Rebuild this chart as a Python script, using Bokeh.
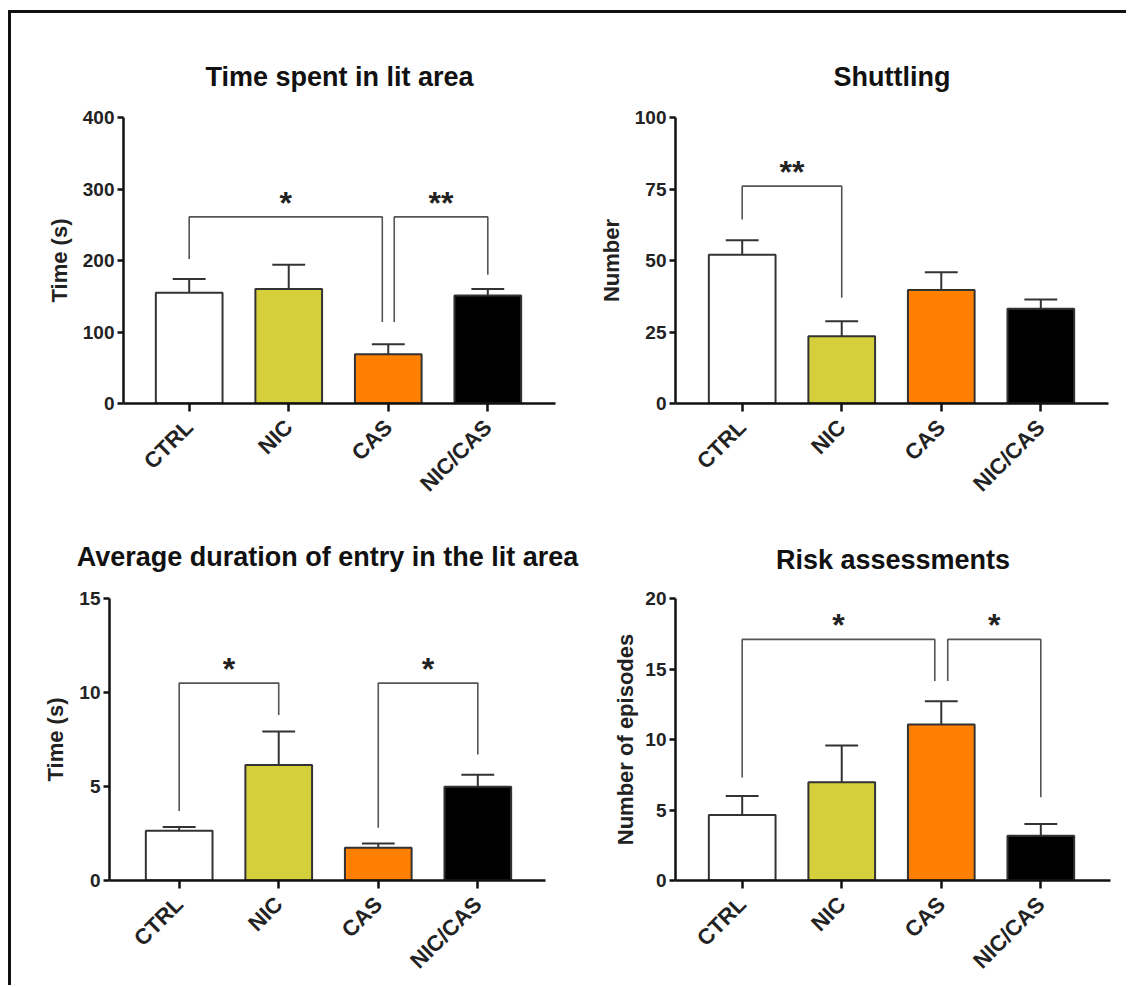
import math
from bokeh.plotting import figure
from bokeh.layouts import row, column
from bokeh.models import FixedTicker, Range1d, ColumnDataSource
from bokeh.core.properties import value
from bokeh.embed import file_html
from bokeh.resources import INLINE

# ---------------- data ----------------
groups = ["CTRL", "NIC", "CAS", "NIC/CAS"]
bar_colors = ["#FFFFFF", "#D6CF3C", "#FF7F00", "#000000"]

titles = ["Time spent in lit area", "Shuttling",
          "Average duration of entry in the lit area", "Risk assessments"]
y_labels = ["Time (s)", "Number", "Time (s)", "Number of episodes"]
y_max = [400, 100, 15, 20]
y_ticks = [[0, 100, 200, 300, 400], [0, 25, 50, 75, 100],
           [0, 5, 10, 15], [0, 5, 10, 15, 20]]

time_lit_mean = [155, 160, 69, 151]
time_lit_sem = [19, 34, 14, 9]

shuttling_mean = [52, 23.5, 39.7, 33.1]
shuttling_sem = [5.1, 5.3, 6.2, 3.3]

avg_entry_mean = [2.64, 6.14, 1.74, 4.99]
avg_entry_sem = [0.2, 1.78, 0.23, 0.63]

risk_mean = [4.64, 6.96, 11.07, 3.18]
risk_sem = [1.35, 2.62, 1.64, 0.83]

# significance brackets: left x, right x, top y, left leg end, right leg end, label
time_lit_sig = [(1, 2.94, 261, 202, 114, "*"), (3.06, 4, 261, 114, 180, "**")]
shuttling_sig = [(1, 2, 76, 64.3, 37, "**")]
avg_entry_sig = [(1, 2, 10.5, 3.7, 8.8, "*"), (3, 4, 10.5, 2.8, 6.7, "*")]
risk_sig = [(1, 2.935, 17.1, 7.3, 14.15, "*"), (3.065, 4, 17.1, 14.15, 5.9, "*")]

means = [time_lit_mean, shuttling_mean, avg_entry_mean, risk_mean]
sems = [time_lit_sem, shuttling_sem, avg_entry_sem, risk_sem]
sigs = [time_lit_sig, shuttling_sig, avg_entry_sig, risk_sig]

# ---------------- layout geometry ----------------
x_ranges = [(0.34, 4.68), (0.33, 4.68), (0.30, 4.68), (0.33, 4.70)]
fig_w = [560, 555, 590, 525]
fig_h = [495, 495, 477, 477]
borders = [  # left, right, top, bottom
    (112, 16, 104, 104),
    (104, 18, 104, 104),
    (98, 56, 90, 100),
    (74, 16, 90, 100),
]
title_standoff = [51, 51, 54, 48]
ylabel_standoff = [8, 8, 8, 4]

FONT = "Liberation Sans"


def make_panel(i):
    bl, br, bt, bb = borders[i]
    p = figure(width=fig_w[i], height=fig_h[i], output_backend="svg",
               toolbar_location=None, tools="",
               x_range=Range1d(*x_ranges[i]), y_range=Range1d(0, y_max[i]),
               min_border_left=bl, min_border_right=br,
               min_border_top=bt, min_border_bottom=bb,
               title=titles[i])
    p.outline_line_color = None
    p.grid.visible = False
    p.background_fill_color = "white"
    p.border_fill_color = "white"

    p.title.align = "center"
    p.title.text_font = FONT
    p.title.text_font_size = "27px"
    p.title.text_font_style = "bold"
    p.title.text_color = "#111111"
    p.title.standoff = title_standoff[i]

    xs = [1, 2, 3, 4]
    m = means[i]
    s = sems[i]
    src = ColumnDataSource(dict(x=xs, top=m, color=bar_colors,
                                up=[a + b for a, b in zip(m, s)],
                                cl=[x - 0.165 for x in xs],
                                cr=[x + 0.165 for x in xs]))
    p.segment(x0="x", y0="top", x1="x", y1="up", source=src,
              line_color="#333333", line_width=2)
    p.segment(x0="cl", y0="up", x1="cr", y1="up", source=src,
              line_color="#333333", line_width=2)
    p.vbar(x="x", top="top", bottom=0, width=0.67, source=src,
           fill_color="color", line_color="#333333", line_width=2)

    # brackets
    bx, by, lx, ly, lt = [], [], [], [], []
    for (x1, x2, yt, yl, yr, lab) in sigs[i]:
        bx.append([x1, x1, x2, x2])
        by.append([yl, yt, yt, yr])
        lx.append((x1 + x2) / 2)
        ly.append(yt)
        lt.append(lab)
    p.multi_line(xs=bx, ys=by, line_color="#555555", line_width=1.6)
    p.text(x=lx, y=ly, text=lt, text_align="center",
           text_baseline="alphabetic", y_offset=-14,
           text_font=value(FONT), text_font_size="32px",
           text_font_style="bold", text_color="#222222")

    # axes
    p.yaxis.ticker = FixedTicker(ticks=y_ticks[i])
    p.xaxis.ticker = FixedTicker(ticks=xs)
    p.xaxis.major_label_overrides = {x: g for x, g in zip(xs, groups)}
    p.xaxis.major_label_orientation = math.pi / 4
    for ax in (p.xaxis[0], p.yaxis[0]):
        ax.axis_line_width = 2.5
        ax.axis_line_color = "#111111"
        ax.major_tick_line_width = 2.5
        ax.major_tick_line_color = "#111111"
        ax.major_tick_in = 0
        ax.minor_tick_line_color = None
        ax.major_label_text_font = FONT
        ax.major_label_text_font_style = "bold"
        ax.major_label_text_color = "#222222"
    p.yaxis.major_label_text_font_size = "19px"
    p.xaxis.major_label_text_font_size = "22px"
    p.yaxis.major_tick_out = 6
    p.yaxis.major_label_standoff = 3
    p.xaxis.major_tick_out = 8
    p.xaxis.major_label_standoff = 12
    p.yaxis.axis_label = y_labels[i]
    p.yaxis.axis_label_text_font = FONT
    p.yaxis.axis_label_text_font_style = "bold"
    p.yaxis.axis_label_text_font_size = "22px"
    p.yaxis.axis_label_text_color = "#222222"
    p.yaxis.axis_label_standoff = ylabel_standoff[i]
    return p


panels = [make_panel(i) for i in range(4)]
layout = column(row(panels[0], panels[1]), row(panels[2], panels[3]),
                styles={"border-left": "3px solid #111111",
                        "border-top": "3px solid #111111",
                        "margin-left": "8px", "margin-top": "10px"})

open("out.html", "w").write(file_html(layout, INLINE))
